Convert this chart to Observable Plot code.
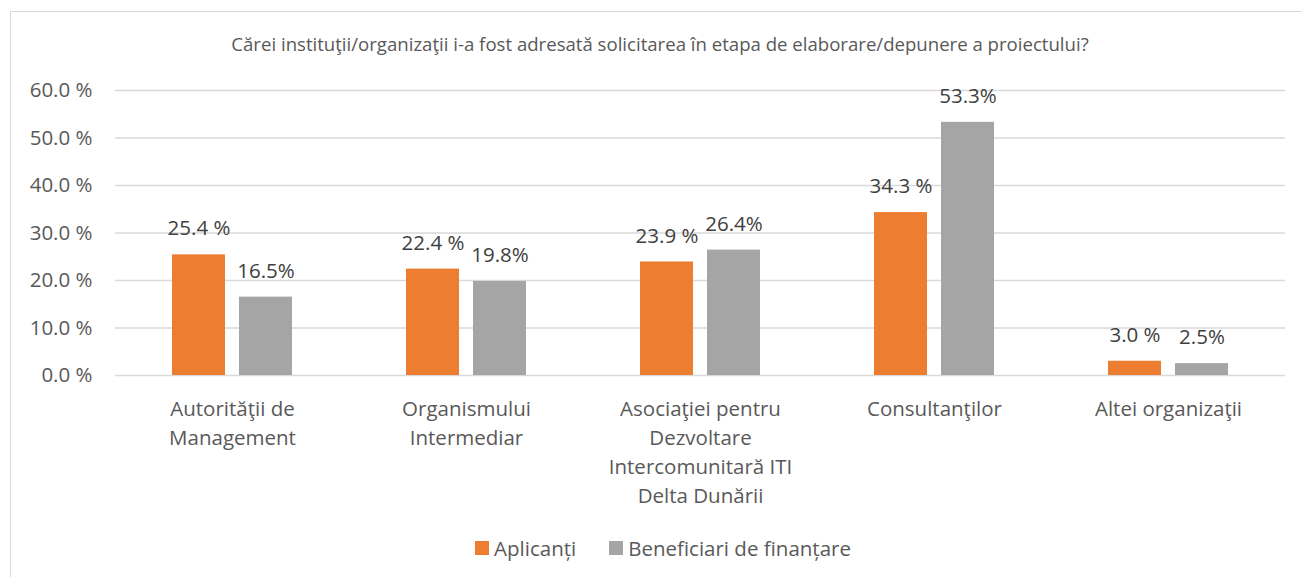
<!DOCTYPE html>
<html>
<head>
<meta charset="utf-8">
<script src="https://cdn.jsdelivr.net/npm/d3@7"></script>
<script src="https://cdn.jsdelivr.net/npm/@observablehq/plot@0.6"></script>
<style>
  html, body { margin: 0; padding: 0; width: 1302px; height: 577px; overflow: hidden; background: #fff; }
  body { position: relative; font-family: 'Open Sans', sans-serif; }
  #frame { position: absolute; left: 10px; top: 11px; width: 1320px; height: 600px; border: 1px solid #d9d9d9; box-sizing: border-box; }
  #title { position: absolute; left: 0; top: 32px; width: 1320px; text-align: center; font-size: 18.6px; line-height: 24px; color: #595959; white-space: nowrap; }
  #chart { position: absolute; left: 0; top: 60px; }
  #legend { position: absolute; left: 0; top: 535px; width: 1326px; height: 26px; display: flex; justify-content: center; align-items: center; font-size: 20.5px; color: #595959; white-space: nowrap; }
  .item { display: flex; align-items: center; }
  .sw { width: 14px; height: 14px; margin-right: 5px; }
</style>
</head>
<body>
<div id="frame"></div>
<div id="title"></div>
<div id="chart"></div>
<div id="legend"></div>
<script>
const titleText = "Cărei instituţii/organizaţii i-a fost adresată solicitarea în etapa de elaborare/depunere a proiectului?";
const categories = [
  "Autorităţii de Management",
  "Organismului Intermediar",
  "Asociaţiei pentru Dezvoltare Intercomunitară ITI Delta Dunării",
  "Consultanţilor",
  "Altei organizaţii"
];
const categoryLabels = [
  "Autorităţii de\nManagement",
  "Organismului\nIntermediar",
  "Asociaţiei pentru\nDezvoltare\nIntercomunitară ITI\nDelta Dunării",
  "Consultanţilor",
  "Altei organizaţii"
];
const seriesNames = ["Aplicanți", "Beneficiari de finanțare"];
const aplicanti = [25.4, 22.4, 23.9, 34.3, 3.0];
const beneficiari = [16.5, 19.8, 26.4, 53.3, 2.5];
const yTicks = [0, 10, 20, 30, 40, 50, 60];
const colors = ["#ED7D31", "#A5A5A5"];

const rowsA = categories.map((c, i) => ({category: c, value: aplicanti[i], label: d3.format(".1f")(aplicanti[i]) + " %"}));
const rowsB = categories.map((c, i) => ({category: c, value: beneficiari[i], label: d3.format(".1f")(beneficiari[i]) + "%"}));
const labelRows = categories.map((c, i) => ({category: c, text: categoryLabels[i]}));

document.getElementById("title").textContent = titleText;

const chart = Plot.plot({
  width: 1302,
  height: 450,
  marginLeft: 115,
  marginRight: 17,
  marginTop: 30,
  marginBottom: 135,
  style: {fontFamily: "'Open Sans', sans-serif", fontSize: "20.5px", color: "#595959", background: "transparent", overflow: "visible"},
  x: {domain: categories, padding: 0, round: false, axis: null},
  y: {domain: [0, 60], ticks: yTicks, tickFormat: d => d3.format(".1f")(d) + " %", tickSize: 0, tickPadding: 23, label: null},
  marks: [
    Plot.ruleY(yTicks, {stroke: "#d9d9d9", strokeWidth: 1.5}),
    Plot.barY(rowsA, {x: "category", y: "value", fill: colors[0], insetLeft: 57, insetRight: 124}),
    Plot.barY(rowsB, {x: "category", y: "value", fill: colors[1], insetLeft: 124, insetRight: 57}),
    Plot.text(rowsA, {x: "category", y: "value", text: "label", dx: -33.5, dy: -26, fill: "#404040"}),
    Plot.text(rowsB, {x: "category", y: "value", text: "label", dx: 33.5, dy: -26, fill: "#404040"}),
    Plot.text(labelRows, {x: "category", y: () => 0, text: "text", lineAnchor: "top", lineHeight: 1.41, dy: 20, fill: "#595959"})
  ]
});
document.getElementById("chart").appendChild(chart);

const legend = document.getElementById("legend");
seriesNames.forEach((name, i) => {
  const item = document.createElement("div");
  item.className = "item";
  if (i > 0) item.style.marginLeft = "33px";
  const sw = document.createElement("div");
  sw.className = "sw";
  sw.style.background = colors[i];
  const t = document.createElement("span");
  t.textContent = name;
  item.appendChild(sw);
  item.appendChild(t);
  legend.appendChild(item);
});
</script>
</body>
</html>
